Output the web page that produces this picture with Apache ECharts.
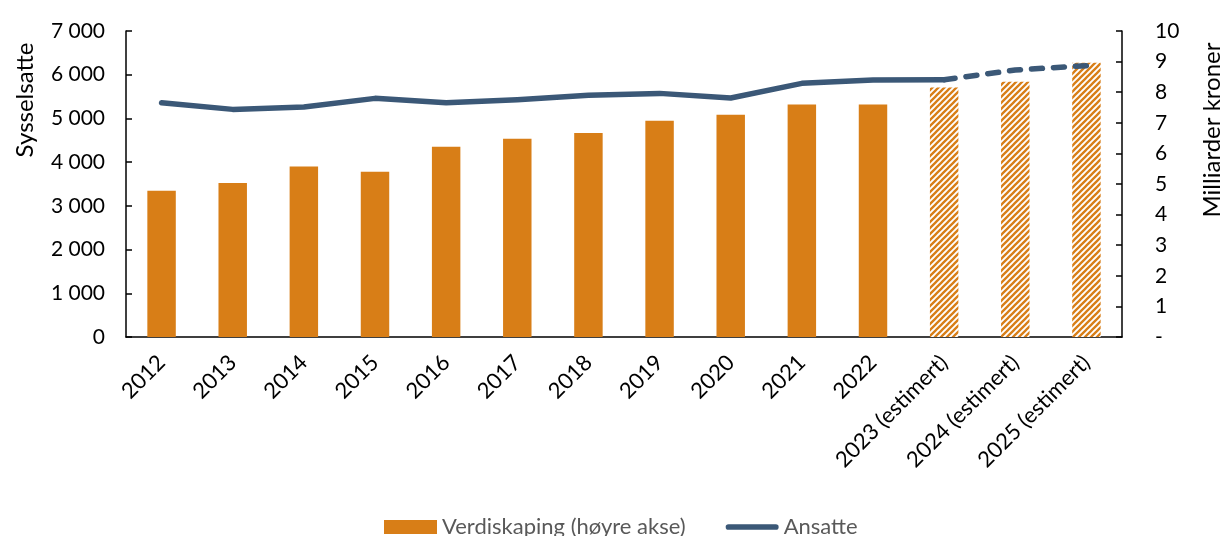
<!DOCTYPE html>
<html>
<head>
<meta charset="utf-8">
<script src="https://cdn.jsdelivr.net/npm/echarts@6/dist/echarts.min.js"></script>
<style>
html,body{margin:0;padding:0;background:#fff;}
#chart{width:1222px;height:536px;}
</style>
</head>
<body>
<div id="chart"></div>
<script>
const categories = ['2012','2013','2014','2015','2016','2017','2018','2019','2020','2021','2022','2023 (estimert)','2024 (estimert)','2025 (estimert)'];
const verdiskaping = [4.78, 5.03, 5.57, 5.40, 6.22, 6.48, 6.67, 7.07, 7.26, 7.60, 7.60, 8.15, 8.34, 8.96];
const estimert = [false,false,false,false,false,false,false,false,false,false,false,true,true,true];
const ansatte = [5360, 5207, 5262, 5459, 5360, 5429, 5528, 5573, 5468, 5802, 5880, 5887, null, null];
const ansatteEstimert = [null,null,null,null,null,null,null,null,null,null,null, 5887, 6108, 6207];
const leftTicks = [0, 7000, 1000];
const rightTicks = [0, 10, 1];

const ORANGE = '#D87E17';
const BLUE = '#3B5877';
const FONT = 'Lato';

function makePattern(){
  const s = 6;
  const c = document.createElement('canvas');
  c.width = s; c.height = s;
  const g = c.getContext('2d');
  g.fillStyle = '#ffffff';
  g.fillRect(0,0,s,s);
  g.strokeStyle = ORANGE;
  g.lineWidth = 2.3;
  g.beginPath();
  g.moveTo(-2, 2); g.lineTo(2, -2);
  g.moveTo(0, s); g.lineTo(s, 0);
  g.moveTo(s-2, s+2); g.lineTo(s+2, s-2);
  g.stroke();
  return c;
}
const pattern = {image: makePattern(), repeat: 'repeat'};
const lineIcon = 'path://M3,0 L53,0 A3,3 0 0 1 53,6 L3,6 A3,3 0 0 1 3,0 Z';

const chart = echarts.init(document.getElementById('chart'));
chart.setOption({
  animation: false,
  textStyle: {fontFamily: FONT},
  grid: {left: 126, right: 100, top: 31, bottom: 199, containLabel: false},
  legend: {
    left: 379, top: 511,
    itemWidth: 53, itemHeight: 14, itemGap: 40,
    textStyle: {fontFamily: FONT, fontSize: 22, color: '#595959'},
    data: [
      {name: 'Verdiskaping (høyre akse)', icon: 'rect'},
      {name: 'Ansatte', icon: lineIcon}
    ]
  },
  xAxis: {
    type: 'category',
    data: categories,
    axisLine: {show: true, lineStyle: {color: '#000', width: 1.5}},
    axisTick: {show: false},
    axisLabel: {rotate: 45, interval: 0, margin: 22, fontFamily: FONT, fontSize: 22, color: '#000'}
  },
  yAxis: [
    {
      type: 'value', min: leftTicks[0], max: leftTicks[1], interval: leftTicks[2],
      axisLine: {show: true, lineStyle: {color: '#000', width: 1.5}},
      axisTick: {show: true, inside: true, length: 6, lineStyle: {color: '#000', width: 1.5}},
      splitLine: {show: false},
      axisLabel: {margin: 21, fontFamily: FONT, fontSize: 21, color: '#000',
        formatter: v => String(v).replace(/\B(?=(\d{3})+(?!\d))/g, ' ')}
    },
    {
      type: 'value', position: 'right', min: rightTicks[0], max: rightTicks[1], interval: rightTicks[2],
      axisLine: {show: true, lineStyle: {color: '#000', width: 1.5}},
      axisTick: {show: true, inside: true, length: 6, lineStyle: {color: '#000', width: 1.5}},
      splitLine: {show: false},
      axisLabel: {margin: 33, fontFamily: FONT, fontSize: 21, color: '#000', align: 'left',
        formatter: v => v === 0 ? '-' : String(v)}
    }
  ],
  series: [
    {
      name: 'Verdiskaping (høyre akse)',
      type: 'bar',
      yAxisIndex: 1,
      barWidth: '40%',
      itemStyle: {color: ORANGE},
      data: verdiskaping.map((v, i) => estimert[i] ? {value: v, itemStyle: {color: pattern}} : v)
    },
    {
      name: 'Ansatte',
      type: 'line',
      yAxisIndex: 0,
      symbol: 'none',
      showSymbol: false,
      lineStyle: {color: BLUE, width: 5.5, cap: 'round', join: 'round'},
      itemStyle: {color: BLUE},
      data: ansatte,
      z: 3
    },
    {
      name: 'Ansatte (estimert)',
      type: 'line',
      yAxisIndex: 0,
      symbol: 'none',
      showSymbol: false,
      lineStyle: {color: BLUE, width: 5.5, type: [11, 11], cap: 'round', join: 'round'},
      itemStyle: {color: BLUE},
      data: ansatteEstimert,
      z: 3
    }
  ],
  graphic: [
    {type: 'text', x: 25, y: 100, rotation: Math.PI/2,
      style: {text: 'Sysselsatte', fontFamily: FONT, fontSize: 24, fill: '#000', align: 'center', verticalAlign: 'middle'}},
    {type: 'text', x: 1212, y: 130, rotation: Math.PI/2,
      style: {text: 'Milliarder kroner', fontFamily: FONT, fontSize: 24, fill: '#000', align: 'center', verticalAlign: 'middle'}}
  ]
});
</script>
</body>
</html>
